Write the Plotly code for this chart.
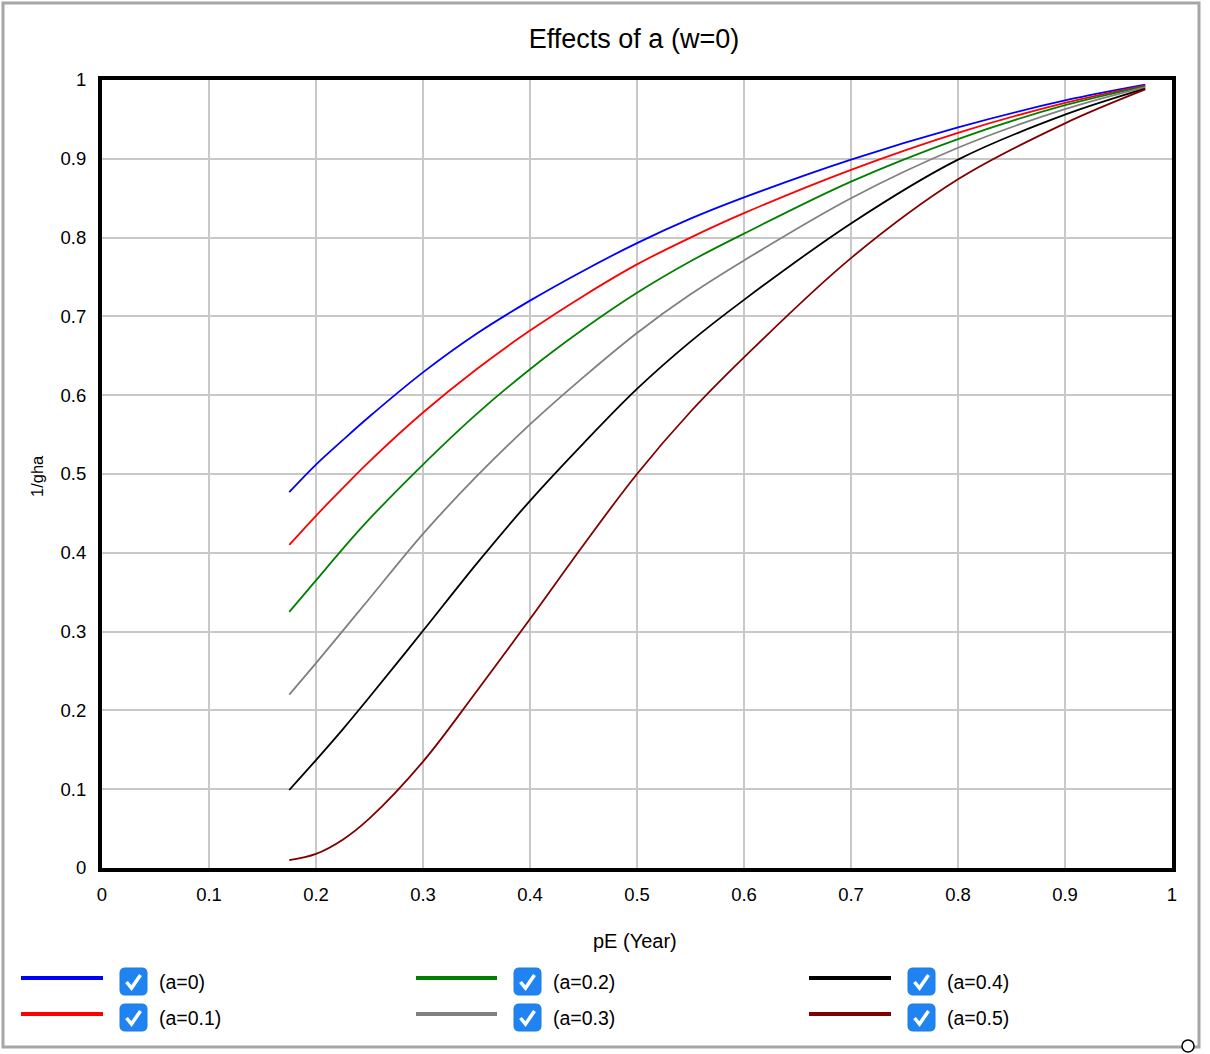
import plotly.graph_objects as go

# ---------------- data ----------------
title_text = "Effects of a (w=0)"
x_title = "pE (Year)"
y_title = "1/gha"
labels = ["(a=0)", "(a=0.1)", "(a=0.2)", "(a=0.3)", "(a=0.4)", "(a=0.5)"]
colors = ["#0000ff", "#ff0000", "#008000", "#808080", "#000000", "#800000"]

pE = [0.175, 0.2, 0.225, 0.25, 0.3, 0.35, 0.4, 0.45, 0.5, 0.55, 0.6, 0.7, 0.8, 0.9, 0.975]
a0 = [0.477, 0.512, 0.543, 0.573, 0.629, 0.678, 0.720, 0.758, 0.793, 0.824, 0.851, 0.899, 0.940, 0.974, 0.994]
a1 = [0.410, 0.447, 0.482, 0.516, 0.578, 0.633, 0.682, 0.726, 0.766, 0.800, 0.831, 0.886, 0.933, 0.971, 0.993]
a2 = [0.325, 0.365, 0.405, 0.443, 0.512, 0.576, 0.633, 0.684, 0.730, 0.770, 0.805, 0.871, 0.925, 0.968, 0.992]
a3 = [0.220, 0.260, 0.301, 0.342, 0.424, 0.497, 0.563, 0.623, 0.679, 0.728, 0.771, 0.850, 0.914, 0.963, 0.991]
a4 = [0.099, 0.137, 0.176, 0.217, 0.301, 0.386, 0.466, 0.539, 0.608, 0.668, 0.721, 0.818, 0.899, 0.956, 0.989]
a5 = [0.010, 0.018, 0.036, 0.063, 0.135, 0.224, 0.316, 0.410, 0.500, 0.579, 0.648, 0.774, 0.874, 0.945, 0.988]
series = [a0, a1, a2, a3, a4, a5]

tick_vals = [0, 0.1, 0.2, 0.3, 0.4, 0.5, 0.6, 0.7, 0.8, 0.9, 1]
tick_text = ["0", "0.1", "0.2", "0.3", "0.4", "0.5", "0.6", "0.7", "0.8", "0.9", "1"]

# ---------------- layout geometry (pixels) ----------------
W, H = 1210, 1054
L, R, T, B = 102, 1172, 80, 868
FONT = "Liberation Sans, Arial, Helvetica, sans-serif"


def px(x):
    return (x - L) / (R - L)


def py(y):
    return (B - y) / (B - T)


fig = go.Figure()
for ys, c, lab in zip(series, colors, labels):
    fig.add_trace(go.Scatter(x=pE, y=ys, mode="lines", name=lab,
                             line=dict(color=c, width=1.8, shape="spline", smoothing=1.0),
                             showlegend=False))

shapes = []
annotations = []

# outer frame
shapes.append(dict(type="rect", xref="paper", yref="paper",
                   x0=px(3), x1=px(1199), y0=py(1047), y1=py(3),
                   line=dict(color="#a6a6a6", width=3), layer="below"))
shapes.append(dict(type="circle", xref="paper", yref="paper",
                   x0=px(1182), x1=px(1194), y0=py(1052), y1=py(1040),
                   line=dict(color="#000000", width=1.5), fillcolor="white"))

# custom legend
col_x = [(21, 103, 120), (416, 497, 514), (809, 891, 908)]
row_y = [978, 1014]
for i, (lab, c) in enumerate(zip(labels, colors)):
    col = i // 2
    row = i % 2
    lx0, lx1, bx = col_x[col]
    ly = row_y[row]
    shapes.append(dict(type="line", xref="paper", yref="paper",
                       x0=px(lx0), x1=px(lx1), y0=py(ly), y1=py(ly),
                       line=dict(color=c, width=4)))
    # checkbox rounded rect
    x0, x1 = bx, bx + 27
    y0, y1 = ly - 10, ly + 17
    r = 5
    path = (f"M {px(x0 + r)},{py(y0)} L {px(x1 - r)},{py(y0)} "
            f"Q {px(x1)},{py(y0)} {px(x1)},{py(y0 + r)} "
            f"L {px(x1)},{py(y1 - r)} Q {px(x1)},{py(y1)} {px(x1 - r)},{py(y1)} "
            f"L {px(x0 + r)},{py(y1)} Q {px(x0)},{py(y1)} {px(x0)},{py(y1 - r)} "
            f"L {px(x0)},{py(y0 + r)} Q {px(x0)},{py(y0)} {px(x0 + r)},{py(y0)} Z")
    shapes.append(dict(type="path", xref="paper", yref="paper", path=path,
                       fillcolor="#1f84f2", line=dict(color="#1a7ae8", width=1)))
    chk = (f"M {px(x0 + 6.5)},{py(y0 + 14)} L {px(x0 + 11.5)},{py(y0 + 20)} "
           f"L {px(x0 + 20.5)},{py(y0 + 7)}")
    shapes.append(dict(type="path", xref="paper", yref="paper", path=chk,
                       line=dict(color="white", width=3.5)))
    annotations.append(dict(x=px(bx + 37), y=py(ly + 4), xref="paper", yref="paper",
                            text=lab, showarrow=False, xanchor="left", yanchor="middle",
                            font=dict(family=FONT, size=19.5, color="#000000")))

# axis titles
annotations.append(dict(x=px(37), y=py(476), xref="paper", yref="paper", text=y_title,
                        showarrow=False, textangle=-90, xanchor="center", yanchor="middle",
                        font=dict(family=FONT, size=16.5, color="#000000")))
annotations.append(dict(x=px(635), y=py(941), xref="paper", yref="paper", text=x_title,
                        showarrow=False, xanchor="center", yanchor="middle",
                        font=dict(family=FONT, size=20, color="#000000")))

axis_common = dict(range=[0, 1], tickvals=tick_vals, ticktext=tick_text,
                   showgrid=True, gridcolor="#c8c8c8", gridwidth=2,
                   showline=True, linecolor="#000000", linewidth=4, mirror=True,
                   zeroline=False, ticks="outside", tickcolor="rgba(0,0,0,0)",
                   tickfont=dict(family=FONT, size=18.5, color="#000000"))

fig.update_layout(
    width=W, height=H,
    margin=dict(l=L, r=W - R, t=T, b=H - B, pad=0),
    paper_bgcolor="white", plot_bgcolor="white",
    title=dict(text=title_text, x=634 / W, xanchor="center",
               y=1 - 39 / H, yanchor="middle", yref="container",
               font=dict(family=FONT, size=27, color="#000000")),
    xaxis=dict(axis_common, ticklen=7),
    yaxis=dict(axis_common, ticklen=8),
    shapes=shapes, annotations=annotations,
    showlegend=False,
)

fig.write_html("out.html", config={"displayModeBar": False},
               post_script="document.body.style.margin='0';document.body.style.padding='0';")
